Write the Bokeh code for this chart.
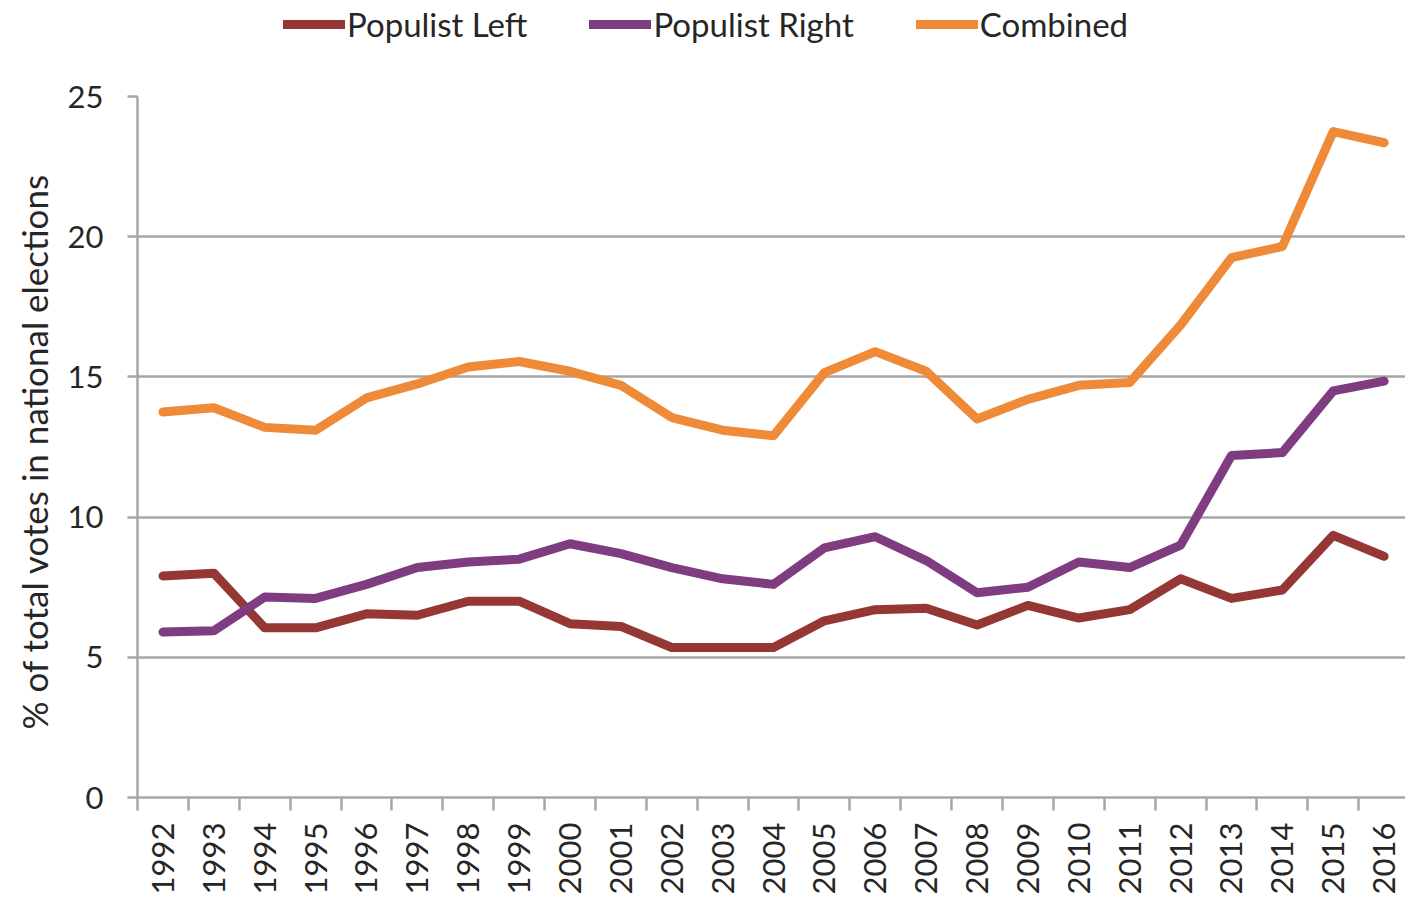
import math
from bokeh.plotting import figure
from bokeh.layouts import column
from bokeh.models import FixedTicker, Legend, LegendItem, ColumnDataSource, Range1d
from bokeh.embed import file_html
from bokeh.resources import INLINE

years = list(range(1992, 2017))
populist_left = [7.9, 8.0, 6.05, 6.05, 6.55, 6.5, 7.0, 7.0, 6.2, 6.1, 5.35, 5.35, 5.35,
                 6.3, 6.7, 6.75, 6.15, 6.85, 6.4, 6.7, 7.8, 7.1, 7.4, 9.35, 8.6]
populist_right = [5.9, 5.95, 7.15, 7.1, 7.6, 8.2, 8.4, 8.5, 9.05, 8.7, 8.2, 7.8, 7.6,
                  8.9, 9.3, 8.45, 7.3, 7.5, 8.4, 8.2, 9.0, 12.2, 12.3, 14.5, 14.85]
combined = [13.75, 13.9, 13.2, 13.1, 14.25, 14.75, 15.35, 15.55, 15.2, 14.7, 13.55, 13.1, 12.9,
            15.15, 15.9, 15.2, 13.5, 14.2, 14.7, 14.8, 16.85, 19.25, 19.65, 23.75, 23.35]
y_ticks = [0, 5, 10, 15, 20, 25]
series_names = ["Populist Left", "Populist Right", "Combined"]
series_colors = ["#953735", "#7F3C80", "#EE8A38"]

FONT = "Lato"
TEXT = "#262626"
GRID = "#A6A6A6"
LW = 9

x = list(range(len(years)))
p = figure(frame_width=1268, frame_height=701, x_range=(-0.5, 24.42), y_range=(0, 25),
           output_backend="svg", toolbar_location=None,
           min_border_left=137, min_border_right=0, min_border_bottom=100, min_border_top=46)
p.outline_line_color = None
p.background_fill_color = "white"
p.border_fill_color = "white"

for name, vals, col in zip(series_names, [populist_left, populist_right, combined], series_colors):
    src = ColumnDataSource(dict(x=x, y=vals))
    p.line("x", "y", source=src, line_color=col, line_width=LW, line_join="round", line_cap="round")

# y axis
p.yaxis.ticker = FixedTicker(ticks=y_ticks)
p.yaxis.major_tick_out = 10
p.yaxis.major_tick_in = 0
p.yaxis.minor_tick_line_color = None
p.yaxis.axis_line_color = GRID
p.yaxis.axis_line_width = 2.5
p.yaxis.major_tick_line_color = GRID
p.yaxis.major_tick_line_width = 2.5
p.yaxis.major_label_text_font = FONT
p.yaxis.major_label_text_font_size = "31px"
p.yaxis.major_label_text_color = TEXT
p.yaxis.major_label_standoff = 24
p.yaxis.axis_label = "% of total  votes in national elections"
p.yaxis.axis_label_text_font = FONT
p.yaxis.axis_label_text_font_size = "35px"
p.yaxis.axis_label_text_font_style = "normal"
p.yaxis.axis_label_text_color = TEXT
p.yaxis.axis_label_standoff = 10

# x axis
p.xaxis.ticker = FixedTicker(ticks=x, minor_ticks=[i - 0.5 for i in range(len(years) + 1)])
p.xaxis.major_label_overrides = {i: str(yv) for i, yv in zip(x, years)}
p.xaxis.major_tick_out = 0
p.xaxis.major_tick_in = 0
p.xaxis.minor_tick_out = 13
p.xaxis.minor_tick_in = 0
p.xaxis.minor_tick_line_color = GRID
p.xaxis.minor_tick_line_width = 2.5
p.xaxis.axis_line_color = GRID
p.xaxis.axis_line_width = 2.5
p.xaxis.major_label_orientation = math.pi / 2
p.xaxis.major_label_text_font = FONT
p.xaxis.major_label_text_font_size = "31px"
p.xaxis.major_label_text_color = TEXT
p.xaxis.major_label_standoff = 12

p.xgrid.grid_line_color = None
p.ygrid.ticker = FixedTicker(ticks=y_ticks)
p.ygrid.grid_line_color = GRID
p.ygrid.grid_line_width = 2.5

# legend strip above the chart (its swatch lines sit outside its visible range)
lf = figure(width=1405, height=50, x_range=Range1d(0, 1), y_range=Range1d(0, 1),
            output_backend="svg", toolbar_location=None, min_border=0)
lf.axis.visible = False
lf.grid.visible = False
lf.outline_line_color = None
items = []
for name, col in zip(series_names, series_colors):
    r = lf.line(x=[5, 6], y=[5, 5], line_color=col, line_width=LW, line_cap="round")
    items.append(LegendItem(label=name, renderers=[r]))
legend = Legend(items=items, orientation="horizontal", location=(146, 6))
legend.label_text_font = FONT
legend.label_text_font_size = "33px"
legend.label_text_color = TEXT
legend.glyph_width = 62
legend.glyph_height = 36
legend.label_standoff = 2
legend.spacing = 62
legend.padding = 0
legend.margin = 0
legend.border_line_color = None
legend.background_fill_alpha = 0
lf.add_layout(legend, "center")

layout = column(lf, p, spacing=0)
open("out.html", "w").write(file_html(layout, INLINE))
